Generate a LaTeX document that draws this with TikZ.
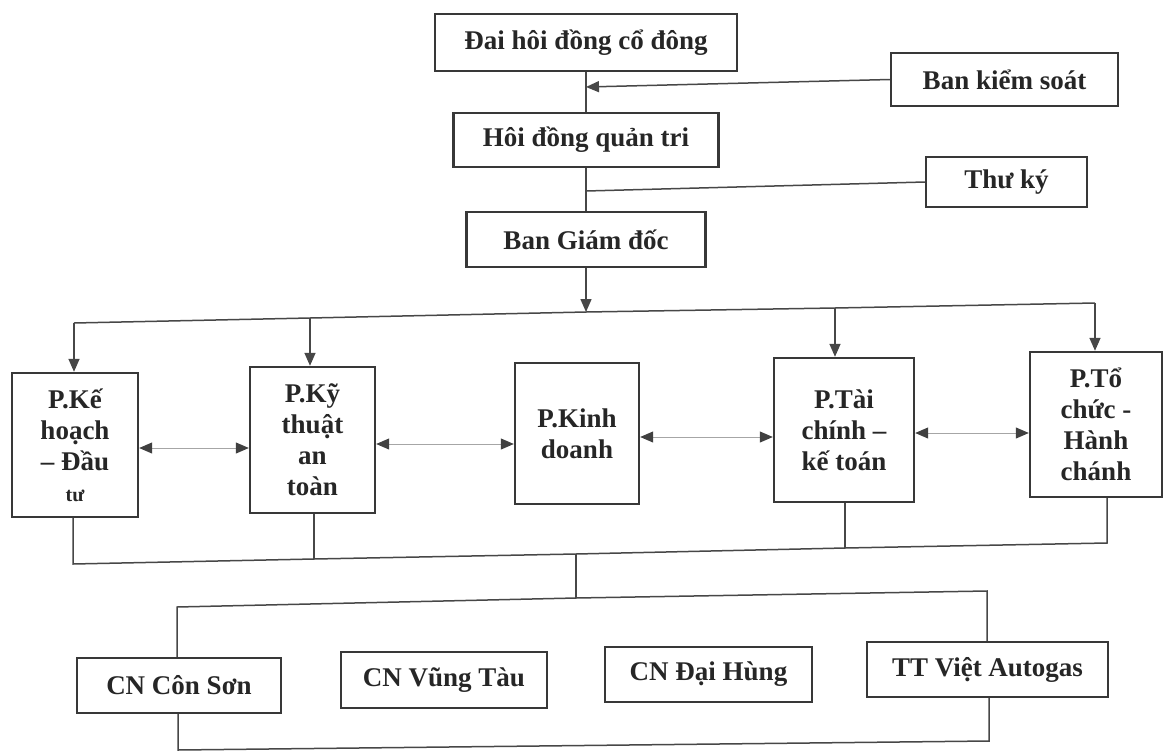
\documentclass[tikz,border=0pt]{standalone}
\usepackage{fontspec}
\setmainfont{Liberation Serif}
\usetikzlibrary{arrows.meta}
\begin{document}
\begin{tikzpicture}[x=1pt,y=-1pt,
  box/.style={draw=black!78, line width=2.4pt, fill=white, inner sep=0pt, align=center,
    font=\bfseries\fontsize{27}{31}\selectfont, text=black!85},
  conn/.style={draw=black!72, line width=1.5pt},
  tip/.style={-{Triangle[length=13pt,width=11pt]}},
  darr/.style={draw=black!35, line width=1pt,
    {Triangle[length=13pt,width=11pt,color=black!75]}-{Triangle[length=13pt,width=11pt,color=black!75]}}]
\useasboundingbox[fill=white] (0,0) rectangle (1163,753);

% top chain
\node[box, minimum width=302pt, minimum height=57pt] (dh) at (586,42.5) {Đai hôi đồng cổ đông};
\node[box, minimum width=227pt, minimum height=53pt] (bks) at (1004.5,79.5) {Ban kiểm soát};
\node[box, minimum width=265pt, minimum height=54pt] (hd) at (586,140) {Hôi đồng quản tri};
\node[box, minimum width=161pt, minimum height=50pt] (tk) at (1006.5,182) {Thư ký};
\node[box, minimum width=239pt, minimum height=55pt] (bgd) at (586,239.5) {Ban Giám đốc};

% departments
\node[box, minimum width=126pt, minimum height=144pt] (ke) at (75,445) {P.Kế\\hoạch\\– Đầu\\{\fontsize{20}{24}\selectfont tư}};
\node[box, minimum width=125pt, minimum height=146pt] (ky) at (312.5,440) {P.Kỹ\\thuật\\an\\toàn};
\node[box, minimum width=124pt, minimum height=141pt] (kd) at (577,433.5) {P.Kinh\\doanh};
\node[box, minimum width=140pt, minimum height=144pt] (tc) at (844,430) {P.Tài\\chính –\\kế toán};
\node[box, minimum width=132pt, minimum height=145pt] (to) at (1096,424.5) {P.Tổ\\chức -\\Hành\\chánh};

% branches
\node[box, minimum width=204pt, minimum height=55pt] (cs) at (179,685.5) {CN Côn Sơn};
\node[box, minimum width=206pt, minimum height=56pt] (vt) at (444,680) {CN Vũng Tàu};
\node[box, minimum width=207pt, minimum height=55pt] (dhg) at (708.5,674.5) {CN Đại Hùng};
\node[box, minimum width=241pt, minimum height=55pt] (tt) at (987.5,669.5) {TT Việt Autogas};

% top connectors
\draw[conn] (dh.south) -- (hd.north);
\draw[conn] (hd.south) -- (bgd.north);
\coordinate (j1) at (586,87);
\coordinate (j2) at (586,191);
\draw[conn,tip] (bks.west) -- (j1);
\draw[conn] (tk.west) -- (j2);

% upper bus
\coordinate (b0) at (586,312);
\coordinate (bKe) at (74,323);
\coordinate (bKy) at (310,318);
\coordinate (bTc) at (835,308);
\coordinate (bTo) at (1095,303);
\draw[conn,tip] (bgd.south) -- (b0);
\draw[conn] (bKe) -- (bKy) -- (b0) -- (bTc) -- (bTo);
\draw[conn,tip] (bKe) -- (bKe |- ke.north);
\draw[conn,tip] (bKy) -- (bKy |- ky.north);
\draw[conn,tip] (bTc) -- (bTc |- tc.north);
\draw[conn,tip] (bTo) -- (bTo |- to.north);

% horizontal double arrows
\draw[darr] (ke.east |- 0,448) -- (ky.west |- 0,448);
\draw[darr] (ky.east |- 0,444) -- (kd.west |- 0,444);
\draw[darr] (kd.east |- 0,437) -- (tc.west |- 0,437);
\draw[darr] (tc.east |- 0,433) -- (to.west |- 0,433);

% lower bus
\coordinate (lKe) at (73,564);
\coordinate (lKy) at (314,559);
\coordinate (l0) at (576,554);
\coordinate (lTc) at (845,548);
\coordinate (lTo) at (1107,543);
\draw[conn] (ke.south -| lKe) -- (lKe) -- (lKy) -- (l0) -- (lTc) -- (lTo) -- (to.south -| lTo);
\draw[conn] (ky.south -| lKy) -- (lKy);
\draw[conn] (tc.south -| lTc) -- (lTc);

% branch bus
\coordinate (m0) at (576,598);
\coordinate (mCs) at (177,607);
\coordinate (mTt) at (987,591);
\draw[conn] (l0) -- (m0);
\draw[conn] (mCs |- cs.north) -- (mCs) -- (m0) -- (mTt) -- (mTt |- tt.north);

% bottom loop
\coordinate (n1) at (178,750);
\coordinate (n2) at (989,741);
\draw[conn] (cs.south -| n1) -- (n1) -- (n2) -- (tt.south -| n2);
\end{tikzpicture}
\end{document}
